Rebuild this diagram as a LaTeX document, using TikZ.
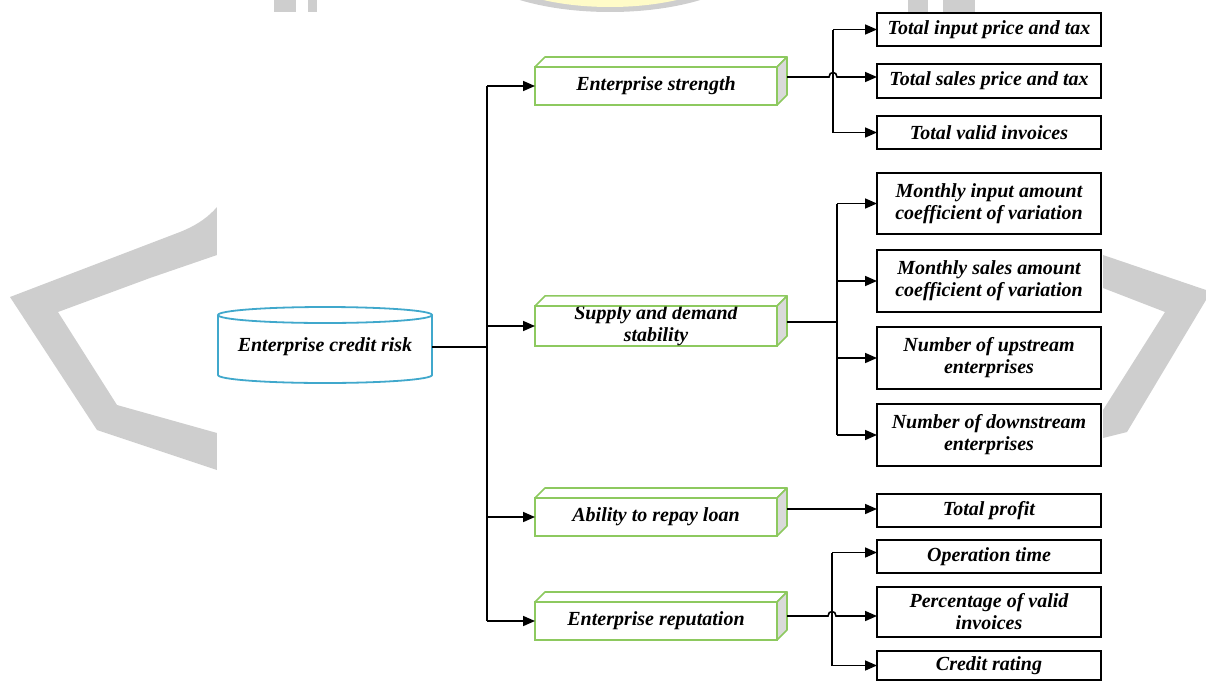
\documentclass[tikz,border=0pt]{standalone}
\usepackage{fontspec}
\setmainfont{Liberation Serif}
\usetikzlibrary{arrows.meta}
\definecolor{boxgreen}{RGB}{141,201,95}
\definecolor{sidegray}{RGB}{218,218,218}
\definecolor{cylblue}{RGB}{64,168,204}
\definecolor{wmgray}{RGB}{206,206,206}
\definecolor{wmyellow}{RGB}{255,251,200}

\begin{document}
\begin{tikzpicture}[x=1pt,y=-1pt,
  lbl/.style={font=\fontsize{20}{22}\selectfont\bfseries\itshape, align=center},
  leaf/.style={lbl, draw=black, line width=1.9pt, fill=white, minimum width=224pt, inner sep=0pt, outer sep=0pt},
  factor/.style={lbl, draw=boxgreen, line width=1.6pt, fill=white, minimum width=242pt, minimum height=38pt, inner sep=0pt, outer sep=0pt},
  face/.style={draw=boxgreen, line width=1.6pt, line join=round},
  conn/.style={line width=1.6pt},
  arr/.style={conn, -{Triangle[length=12pt,width=10pt]}},
]
\useasboundingbox (0,0) rectangle (1206,680);
\clip (0,0) rectangle (1206,680);

% background emblem
\fill[wmgray] (10,297) -- (180,232) .. controls (200,224) and (210,215) .. (217,207)
  -- (217,255) -- (150,278) -- (58,312) -- (117,405) -- (217,433) -- (217,470) -- (97,430) -- cycle;
\fill[wmgray] (1103,255) -- (1206,290) -- (1206,300) -- (1127,432) -- (1103,438)
  -- (1103,410) -- (1165,312) -- (1103,288) -- cycle;
\fill[wmgray] (610,-45) ellipse [x radius=147pt, y radius=57pt];
\fill[wmyellow] (610,-45) ellipse [x radius=133pt, y radius=52pt];
\fill[wmgray] (274,0) rectangle (296,12);
\fill[wmgray] (308,0) rectangle (317,12);
\fill[wmgray] (908,0) rectangle (928,12);
\fill[wmgray] (943,0) rectangle (975,12);
\fill[white] (217,12) rectangle (1103,680);

% root cylinder
\filldraw[cylblue, line width=1.8pt, fill=white] (218,315) -- (218,375)
  arc[start angle=180, end angle=360, x radius=107pt, y radius=8pt] -- (432,315);
\draw[cylblue, line width=1.8pt] (325,315) ellipse [x radius=107pt, y radius=8pt];
\node[lbl, minimum width=214pt, inner sep=0pt, outer sep=0pt] (root) at (325,347) {Enterprise credit risk};

% first-level factors
\node[factor] (m1) at (656,86)  {Enterprise strength};
\node[factor] (m2) at (656,326) {Supply and demand\\stability};
\node[factor] (m3) at (656,517) {Ability to repay loan};
\node[factor] (m4) at (656,621) {Enterprise reputation};
\foreach \n in {m1,m2,m3,m4}{
  \filldraw[face, fill=white] (\n.north west) -- ++(10,-10)
    -- ([shift={(10,-10)}]\n.north east) -- (\n.north east) -- cycle;
  \filldraw[face, fill=sidegray] (\n.north east) -- ([shift={(10,-10)}]\n.north east)
    -- ([shift={(10,-10)}]\n.south east) -- (\n.south east) -- cycle;
}
\coordinate (m1o) at ([shift={(10,-9)}]m1.east);
\coordinate (m2o) at ([shift={(10,-4)}]m2.east);
\coordinate (m3o) at ([shift={(10,-8)}]m3.east);
\coordinate (m4o) at ([shift={(10,-5)}]m4.east);

% indicators
\node[leaf, minimum height=33pt] (a1) at (989,29.5)  {Total input price and tax};
\node[leaf, minimum height=34pt] (a2) at (989,81)    {Total sales price and tax};
\node[leaf, minimum height=33pt] (a3) at (989,132.5) {Total valid invoices};
\node[leaf, minimum height=61pt] (b1) at (989,203.5) {Monthly input amount\\coefficient of variation};
\node[leaf, minimum height=62pt] (b2) at (989,281)   {Monthly sales amount\\coefficient of variation};
\node[leaf, minimum height=62pt] (b3) at (989,358)   {Number of upstream\\enterprises};
\node[leaf, minimum height=62pt] (b4) at (989,435)   {Number of downstream\\enterprises};
\node[leaf, minimum height=33pt] (c1) at (989,510.5) {Total profit};
\node[leaf, minimum height=33pt] (d1) at (989,556.5) {Operation time};
\node[leaf, minimum height=50pt] (d2) at (989,612)   {Percentage of valid\\invoices};
\node[leaf, minimum height=29pt] (d3) at (989,665.5) {Credit rating};

% root to factors
\coordinate (trunk) at (487,347);
\draw[conn] (root.east) -- (root.east -| trunk);
\draw[conn] (trunk |- m1.west) -- (trunk |- m4.west);
\foreach \n in {m1,m2,m3,m4}
  \draw[arr] (trunk |- \n.west) -- (\n.west);

% enterprise strength
\coordinate (ja) at (833,77);
\draw[conn] (ja |- a1.west) -- (ja |- a3.west);
\draw[arr] (ja |- a1.west) -- (a1.west);
\draw[arr] (ja |- a3.west) -- (a3.west);
\draw[arr] (m1o) -- ([xshift=-4pt]ja) .. controls ([shift={(-4,-6)}]ja) and ([shift={(4,-6)}]ja)
  .. ([xshift=4pt]ja) -- (a2.west |- m1o);

% supply and demand stability
\coordinate (jb) at (837,322);
\draw[conn] (m2o) -- (jb);
\draw[conn] (jb |- b1.west) -- (jb |- b4.west);
\foreach \t in {b1,b2,b3,b4}
  \draw[arr] (jb |- \t.west) -- (\t.west);

% ability to repay loan
\draw[arr] (m3o) -- (c1.west |- m3o);

% enterprise reputation
\coordinate (jd) at (832,616);
\coordinate (d1in) at ([yshift=4pt]d1.west);
\draw[conn] (d1in -| jd) -- (jd |- d3.west);
\draw[arr] (d1in -| jd) -- (d1in);
\draw[arr] (jd |- d3.west) -- (d3.west);
\draw[arr] (m4o) -- ([xshift=-4pt]jd) .. controls ([shift={(-4,-6)}]jd) and ([shift={(4,-6)}]jd)
  .. ([xshift=4pt]jd) -- (d2.west |- m4o);
\end{tikzpicture}
\end{document}
